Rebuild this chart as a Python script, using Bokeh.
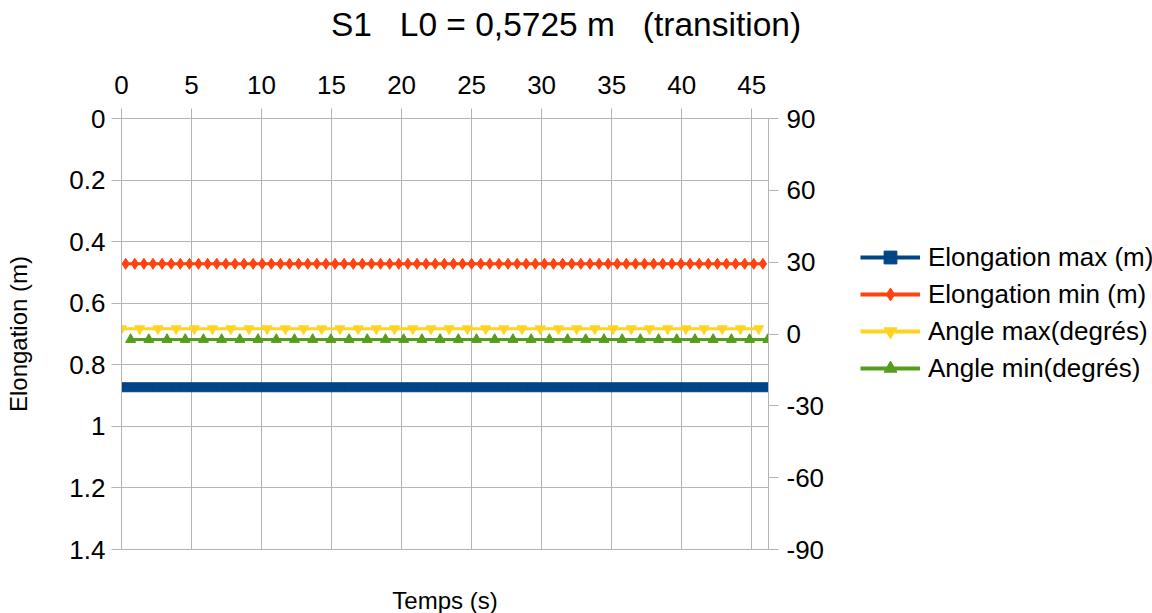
from bokeh.plotting import figure
from bokeh.layouts import row
from bokeh.models import (Range1d, LinearAxis, FixedTicker, CustomJSTickFormatter,
                          Legend, LegendItem)
from bokeh.embed import file_html
from bokeh.resources import INLINE

FONT = "Liberation Sans"
GRID = "#b3b3b3"
NB = "\u00a0"

title_text = "S1" + NB + NB + " L0 = 0,5725 m" + NB + NB + " (transition)"
x_label = "Temps (s)"
y_label = "Elongation (m)"

x_ticks = [0, 5, 10, 15, 20, 25, 30, 35, 40, 45]
y_ticks = [0, 0.2, 0.4, 0.6, 0.8, 1.0, 1.2, 1.4]
y2_ticks = [-90, -60, -30, 0, 30, 60, 90]

series_names = ["Elongation max (m)", "Elongation min (m)", "Angle max(degrés)", "Angle min(degrés)"]

t_elong_max = [0, 0.65, 1.3, 1.95, 2.6, 3.25, 3.9, 4.55, 5.2, 5.85, 6.5, 7.15, 7.8, 8.45,
               9.1, 9.75, 10.4, 11.05, 11.7, 12.35, 13, 13.65, 14.3, 14.95, 15.6, 16.25,
               16.9, 17.55, 18.2, 18.85, 19.5, 20.15, 20.8, 21.45, 22.1, 22.75, 23.4, 24.05,
               24.7, 25.35, 26, 26.65, 27.3, 27.95, 28.6, 29.25, 29.9, 30.55, 31.2, 31.85,
               32.5, 33.15, 33.8, 34.45, 35.1, 35.75, 36.4, 37.05, 37.7, 38.35, 39, 39.65,
               40.3, 40.95, 41.6, 42.25, 42.9, 43.55, 44.2, 44.85, 45.5, 46.15]
elong_max = [0.873, 0.873, 0.873, 0.873, 0.873, 0.873, 0.873, 0.873, 0.873, 0.873, 0.873, 0.873,
             0.873, 0.873, 0.873, 0.873, 0.873, 0.873, 0.873, 0.873, 0.873, 0.873, 0.873, 0.873,
             0.873, 0.873, 0.873, 0.873, 0.873, 0.873, 0.873, 0.873, 0.873, 0.873, 0.873, 0.873,
             0.873, 0.873, 0.873, 0.873, 0.873, 0.873, 0.873, 0.873, 0.873, 0.873, 0.873, 0.873,
             0.873, 0.873, 0.873, 0.873, 0.873, 0.873, 0.873, 0.873, 0.873, 0.873, 0.873, 0.873,
             0.873, 0.873, 0.873, 0.873, 0.873, 0.873, 0.873, 0.873, 0.873, 0.873, 0.873, 0.873]

t_elong_min = [0.3, 0.95, 1.6, 2.25, 2.9, 3.55, 4.2, 4.85, 5.5, 6.15, 6.8, 7.45, 8.1, 8.75,
               9.4, 10.05, 10.7, 11.35, 12, 12.65, 13.3, 13.95, 14.6, 15.25, 15.9, 16.55,
               17.2, 17.85, 18.5, 19.15, 19.8, 20.45, 21.1, 21.75, 22.4, 23.05, 23.7, 24.35,
               25, 25.65, 26.3, 26.95, 27.6, 28.25, 28.9, 29.55, 30.2, 30.85, 31.5, 32.15,
               32.8, 33.45, 34.1, 34.75, 35.4, 36.05, 36.7, 37.35, 38, 38.65, 39.3, 39.95,
               40.6, 41.25, 41.9, 42.55, 43.2, 43.85, 44.5, 45.15, 45.8]
elong_min = [0.472, 0.472, 0.472, 0.472, 0.472, 0.472, 0.472, 0.472, 0.472, 0.472, 0.472, 0.472,
             0.472, 0.472, 0.472, 0.472, 0.472, 0.472, 0.472, 0.472, 0.472, 0.472, 0.472, 0.472,
             0.472, 0.472, 0.472, 0.472, 0.472, 0.472, 0.472, 0.472, 0.472, 0.472, 0.472, 0.472,
             0.472, 0.472, 0.472, 0.472, 0.472, 0.472, 0.472, 0.472, 0.472, 0.472, 0.472, 0.472,
             0.472, 0.472, 0.472, 0.472, 0.472, 0.472, 0.472, 0.472, 0.472, 0.472, 0.472, 0.472,
             0.472, 0.472, 0.472, 0.472, 0.472, 0.472, 0.472, 0.472, 0.472, 0.472, 0.472]

t_angle_max = [0, 1.3, 2.6, 3.9, 5.2, 6.5, 7.8, 9.1, 10.4, 11.7, 13, 14.3, 15.6, 16.9, 18.2,
               19.5, 20.8, 22.1, 23.4, 24.7, 26, 27.3, 28.6, 29.9, 31.2, 32.5, 33.8, 35.1,
               36.4, 37.7, 39, 40.3, 41.6, 42.9, 44.2, 45.5]
angle_max = [2.2, 2.2, 2.2, 2.2, 2.2, 2.2, 2.2, 2.2, 2.2, 2.2, 2.2, 2.2, 2.2, 2.2, 2.2, 2.2,
             2.2, 2.2, 2.2, 2.2, 2.2, 2.2, 2.2, 2.2, 2.2, 2.2, 2.2, 2.2, 2.2, 2.2, 2.2, 2.2,
             2.2, 2.2, 2.2, 2.2]

t_angle_min = [0.65, 1.95, 3.25, 4.55, 5.85, 7.15, 8.45, 9.75, 11.05, 12.35, 13.65, 14.95,
               16.25, 17.55, 18.85, 20.15, 21.45, 22.75, 24.05, 25.35, 26.65, 27.95, 29.25,
               30.55, 31.85, 33.15, 34.45, 35.75, 37.05, 38.35, 39.65, 40.95, 42.25, 43.55,
               44.85, 46.15]
angle_min = [-2.3, -2.3, -2.3, -2.3, -2.3, -2.3, -2.3, -2.3, -2.3, -2.3, -2.3, -2.3, -2.3,
             -2.3, -2.3, -2.3, -2.3, -2.3, -2.3, -2.3, -2.3, -2.3, -2.3, -2.3, -2.3, -2.3,
             -2.3, -2.3, -2.3, -2.3, -2.3, -2.3, -2.3, -2.3, -2.3, -2.3]

colors = ["#004586", "#ff420e", "#ffd320", "#579d1c"]
markers = ["square", "diamond", "inverted_triangle", "triangle"]

MAIN_W = 824

p = figure(frame_width=647, frame_height=431, output_backend="svg", toolbar_location=None,
           x_range=Range1d(0, 46.2), y_range=Range1d(1.4, 0),
           x_axis_location="above", title=None,
           min_border_left=121, min_border_right=MAIN_W - 121 - 647, min_border_top=118,
           min_border_bottom=64)
p.outline_line_color = GRID
p.extra_y_ranges = {"ang": Range1d(-90, 90)}

def style_axis(ax):
    ax.axis_line_color = GRID
    ax.major_tick_line_color = GRID
    ax.major_tick_out = 10
    ax.major_tick_in = 0
    ax.minor_tick_line_color = None
    ax.major_label_text_font = FONT
    ax.major_label_text_font_size = "26px"
    ax.major_label_text_color = "black"
    ax.major_label_standoff = 8
    ax.axis_label_text_font = FONT
    ax.axis_label_text_font_size = "24px"
    ax.axis_label_text_font_style = "normal"
    ax.axis_label_text_color = "black"

xt = FixedTicker(ticks=x_ticks)
yt = FixedTicker(ticks=y_ticks)

top = p.xaxis[0]
top.ticker = xt
style_axis(top)
top.major_label_standoff = 15
# chart title, carried by the top axis (shifted right with leading no-break spaces)
top.axis_label = NB * 26 + title_text
top.axis_label_text_font_size = "33.5px"
top.axis_label_standoff = 30

left = p.yaxis[0]
left.ticker = yt
left.formatter = CustomJSTickFormatter(code="return (Math.round(tick*10)/10).toString();")
style_axis(left)
left.major_label_standoff = 6
left.axis_label = y_label
left.axis_label_standoff = 34

right = LinearAxis(y_range_name="ang", ticker=FixedTicker(ticks=y2_ticks),
                   formatter=CustomJSTickFormatter(code="return String(tick);"))
style_axis(right)
p.add_layout(right, "right")

bottom = LinearAxis(ticker=FixedTicker(ticks=[]), axis_label=x_label)
style_axis(bottom)
bottom.axis_line_color = None
bottom.major_tick_out = 0
bottom.axis_label_standoff = 37
p.add_layout(bottom, "below")

p.xgrid.ticker = xt
p.ygrid.ticker = yt
p.xgrid.grid_line_color = GRID
p.ygrid.grid_line_color = GRID

p.line(t_elong_max, elong_max, line_color=colors[0], line_width=3)
p.scatter(t_elong_max, elong_max, marker=markers[0], size=9, color=colors[0])
p.line(t_elong_min, elong_min, line_color=colors[1], line_width=3)
p.scatter(t_elong_min, elong_min, marker=markers[1], size=11, color=colors[1])
p.line(t_angle_max, angle_max, line_color=colors[2], line_width=3, y_range_name="ang")
p.scatter(t_angle_max, angle_max, marker=markers[2], size=10, color=colors[2], y_range_name="ang")
p.line(t_angle_min, angle_min, line_color=colors[3], line_width=3, y_range_name="ang")
p.scatter(t_angle_min, angle_min, marker=markers[3], size=10, color=colors[3], y_range_name="ang")

# ---- legend panel (own figure so nothing is clipped) ----
LEG_W = 1152 - MAIN_W
pl = figure(width=LEG_W, height=613, output_backend="svg", toolbar_location=None,
            x_range=Range1d(0, 1), y_range=Range1d(0, 1), title=None,
            x_axis_location=None, y_axis_location=None,
            min_border_left=0, min_border_right=0, min_border_top=118, min_border_bottom=64,
            outline_line_color=None)
pl.grid.visible = False

# legend proxies: one point each, placed outside the visible range
proxy_x = [-5]
proxy_y = [-5]
items = []
legend_sizes = [13, 15, 14, 14]
for name, c, m, s in zip(series_names, colors, markers, legend_sizes):
    lr = pl.line(proxy_x, proxy_y, line_color=c, line_width=4)
    sr = pl.scatter(proxy_x, proxy_y, marker=m, size=s, color=c)
    items.append(LegendItem(label=name, renderers=[lr, sr]))

legend = Legend(items=items, location=(33, 162))
legend.border_line_color = None
legend.background_fill_alpha = 0
legend.padding = 0
legend.margin = 0
legend.spacing = 5
legend.glyph_width = 60
legend.glyph_height = 32
legend.label_height = 32
legend.label_standoff = 8
legend.label_text_font = FONT
legend.label_text_font_size = "26px"
legend.label_text_color = "black"
pl.add_layout(legend, "center")

layout = row(p, pl, spacing=0)
open("out.html", "w").write(file_html(layout, INLINE))
